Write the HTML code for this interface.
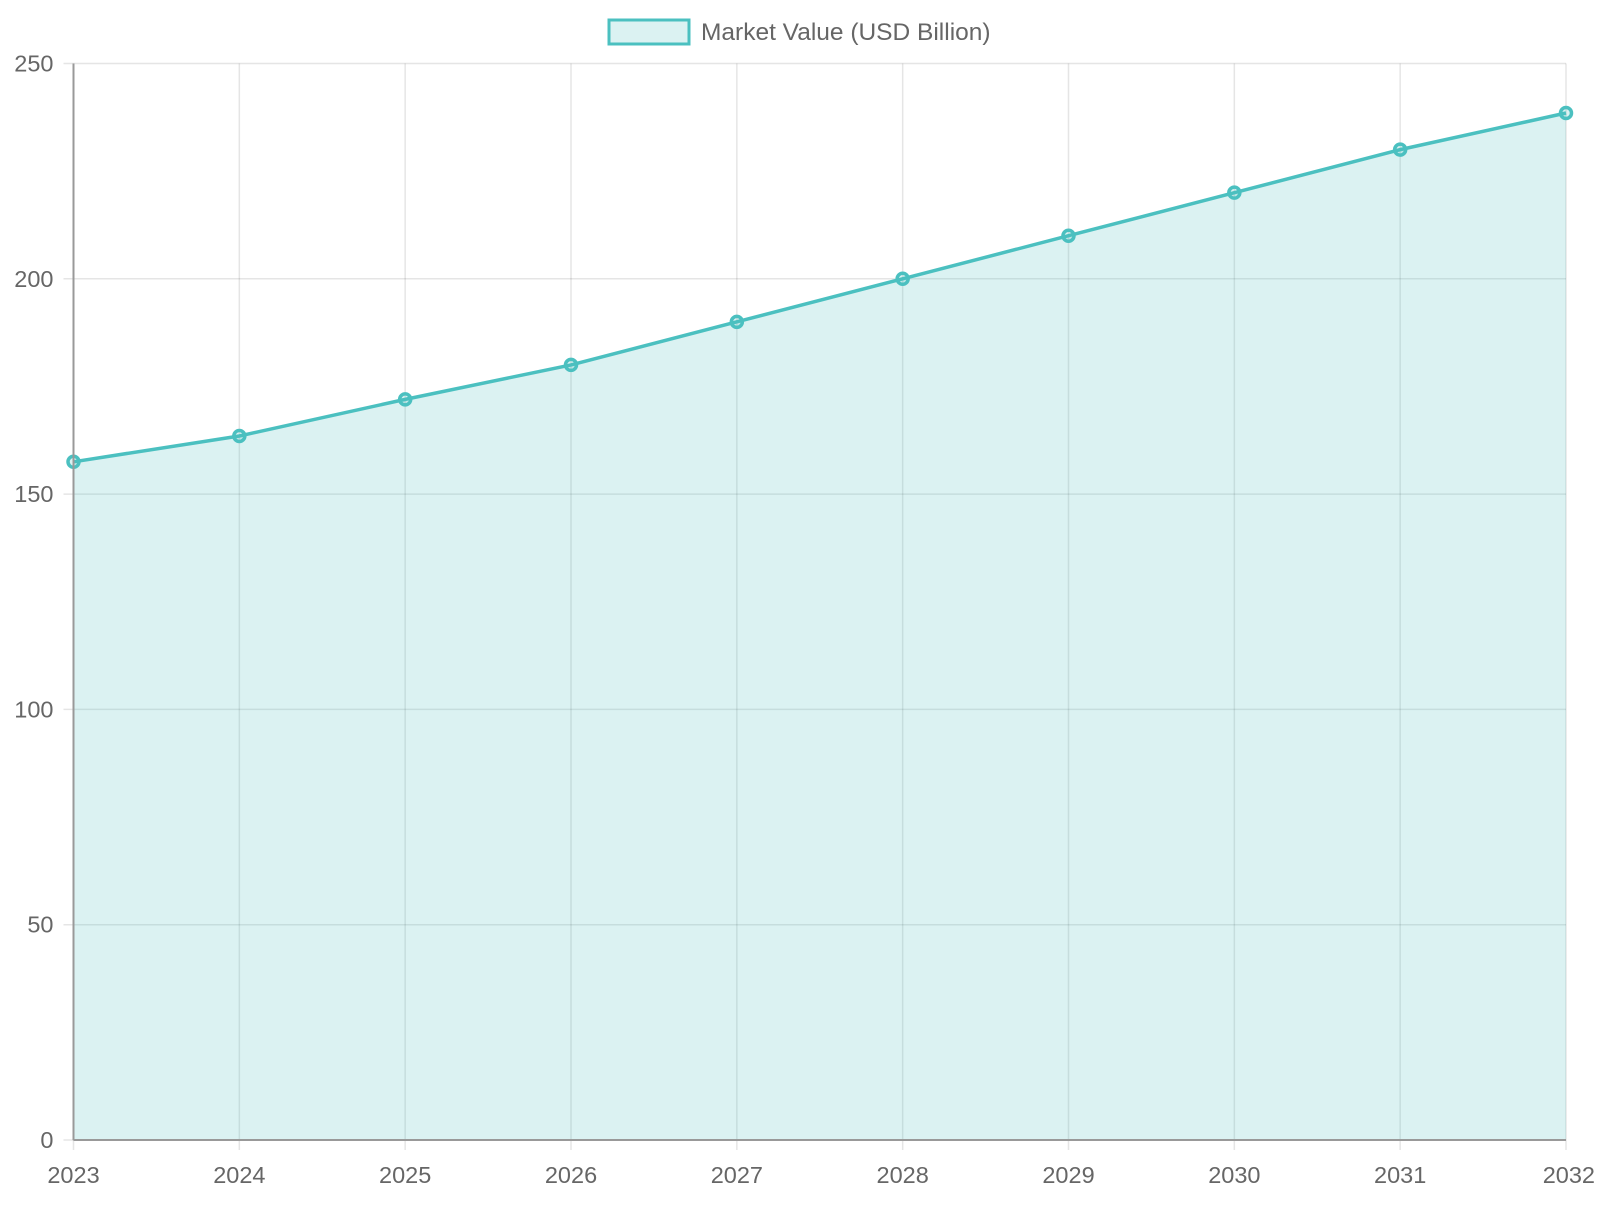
<!DOCTYPE html>
<html><head><meta charset="utf-8"><style>
body{margin:0;background:#fff;font-family:"Liberation Sans",sans-serif}
svg text{font-family:"Liberation Sans",sans-serif;fill:#666}
</style></head><body>
<svg id="chart" width="1600" height="1200" xmlns="http://www.w3.org/2000/svg">
<g>
<rect x="609" y="20" width="80" height="24" fill="rgba(75,192,192,0.2)" stroke="#4bc0c0" stroke-width="3"/>
<text x="701" y="40" font-size="24.5">Market Value (USD Billion)</text>
</g>
<g id="grid"></g><g id="series"></g><g id="axes"></g>
</svg>
<script>
const categories=["2023","2024","2025","2026","2027","2028","2029","2030","2031","2032"];
const values=[157.5,163.5,172,180,190,200,210,220,230,238.5];
const yTicks=[0,50,100,150,200,250];
const L=73.5,R=1566,T=63.5,B=1140,YMAX=250;
const NS="http://www.w3.org/2000/svg";
function x(i){return L+(R-L)*i/(categories.length-1);}
function y(v){return B-(B-T)*v/YMAX;}
function mk(tag,attrs,parent){const e=document.createElementNS(NS,tag);for(const k in attrs)e.setAttribute(k,attrs[k]);parent.appendChild(e);return e;}
const grid=document.getElementById('grid'),series=document.getElementById('series'),axes=document.getElementById('axes');
yTicks.forEach(t=>{
 const l=mk('line',{x1:L-10,x2:R,y1:y(t),y2:y(t),stroke:'rgba(0,0,0,0.1)','stroke-width':1.5},grid);
 
 
 const tx=mk('text',{x:L-20,y:y(t)+8,'text-anchor':'end','font-size':23.5},axes);
 tx.textContent=t;
 
 
});
categories.forEach((c,i)=>{
 const l=mk('line',{x1:x(i),x2:x(i),y1:T,y2:B+10,stroke:'rgba(0,0,0,0.1)','stroke-width':1.5},grid);
 
 
 const last=i===categories.length-1;
 const tx=mk('text',{x:last?R+29:x(i),y:B+43,'text-anchor':last?'end':'middle','font-size':23.5},axes);
 tx.textContent=c;
 
 
});
let pts=values.map((v,i)=>x(i)+','+y(values[i]));
const area=mk('polygon',{points:pts.join(' ')+' '+R+','+B+' '+L+','+B,fill:'rgba(75,192,192,0.2)'},series);


const line=mk('polyline',{points:pts.join(' '),fill:'none',stroke:'#4bc0c0','stroke-width':3.5},series);


values.forEach((v,i)=>{
 const p=mk('circle',{cx:x(i),cy:y(v),r:5.5,fill:'rgba(75,192,192,0.2)',stroke:'#4bc0c0','stroke-width':3.5},series);
 
 
});
const ya=mk('line',{x1:L,x2:L,y1:T,y2:B,stroke:'#999','stroke-width':2},axes);


const xa=mk('line',{x1:L,x2:R,y1:B,y2:B,stroke:'#999','stroke-width':2},axes);


</script>
</body></html>
